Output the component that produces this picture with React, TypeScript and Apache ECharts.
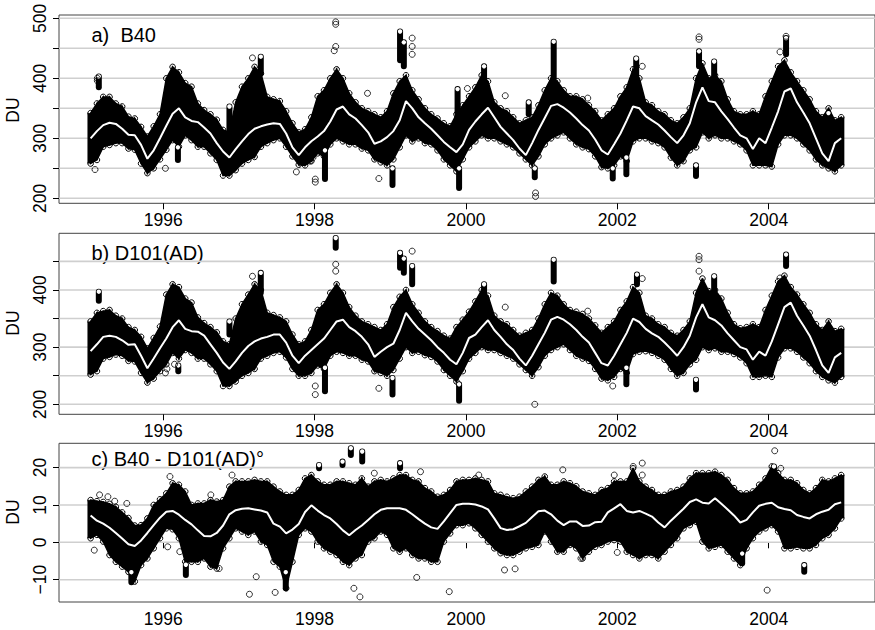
import React, { useEffect, useRef } from "react";
import * as echarts from "echarts";

const FONT = "Liberation Sans, Arial, Helvetica, sans-serif";
const START_YEAR = 1995;
const X_TICKS = [1996, 1998, 2000, 2002, 2004];

// ---------- Panel a) B40 ----------
const meanA = [
  300, 312, 322, 326, 324, 316, 306, 305, 289, 266, 280, 300,
  321, 341, 350, 335, 329, 327, 318, 308, 292, 278, 268, 282,
  295, 307, 316, 320, 323, 325, 324, 308, 285, 272, 285, 295,
  303, 312, 328, 348, 353, 340, 333, 322, 310, 291, 295, 302,
  312, 330, 362, 350, 335, 325, 316, 305, 294, 285, 277, 290,
  314, 328, 340, 351, 335, 319, 308, 297, 283, 272, 292, 314,
  334, 354, 357, 351, 343, 333, 322, 313, 298, 280, 273, 290,
  308, 330, 353, 350, 337, 330, 323, 313, 302, 292, 305, 325,
  360, 385, 362, 360, 345, 332, 318, 305, 300, 282, 300, 292,
  318, 345, 378, 383, 360, 343, 325, 300, 275, 262, 292, 300,
];
const loA = [
  258, 264, 286, 289, 292, 292, 283, 281, 258, 242, 250, 265,
  281, 297, 286, 305, 297, 286, 286, 275, 264, 238, 238, 247,
  258, 264, 269, 286, 292, 297, 300, 286, 270, 256, 255, 262,
  275, 270, 290, 300, 295, 290, 290, 283, 280, 265, 260, 255,
  265, 285, 305, 295, 300, 292, 290, 280, 265, 255, 245, 265,
  285, 295, 305, 300, 300, 295, 290, 285, 275, 265, 255, 270,
  290, 300, 305, 310, 300, 290, 285, 282, 270, 252, 250, 255,
  270, 262, 295, 300, 300, 295, 292, 285, 268, 255, 262, 280,
  285, 310, 300, 305, 300, 300, 295, 290, 280, 255, 255, 255,
  253, 290, 305, 305, 300, 290, 280, 265, 255, 250, 245, 255,
];
const hiA = [
  342, 358, 369, 369, 358, 353, 336, 333, 319, 303, 320, 340,
  400, 419, 410, 392, 386, 358, 347, 340, 331, 314, 310, 360,
  386, 400, 419, 408, 369, 365, 362, 345, 325, 310, 315, 335,
  370, 380, 400, 415, 400, 375, 360, 350, 345, 340, 335, 345,
  375, 395, 405, 380, 365, 350, 340, 333, 325, 320, 340, 355,
  370, 385, 405, 395, 360, 350, 345, 335, 325, 330, 335, 355,
  380, 400, 395, 380, 370, 370, 365, 355, 345, 330, 340, 350,
  370, 385, 415, 400, 360, 355, 345, 340, 330, 325, 335, 350,
  400, 425, 400, 405, 395, 365, 345, 340, 340, 345, 340, 370,
  395, 420, 430, 410, 395, 380, 365, 345, 335, 350, 330, 335,
];
const streaksA = [
  [1995.15, 385, 403], [1996.195, 264, 285], [1996.876, 310, 353], [1997.29, 408, 436],
  [1998.138, 232, 280], [1999.03, 222, 250], [1999.13, 430, 478], [1999.18, 420, 460],
  [1999.91, 217, 250], [1999.89, 330, 382], [2000.24, 390, 420], [2000.83, 340, 360],
  [2000.91, 235, 250], [2001.16, 400, 461], [2001.94, 233, 250], [2002.12, 240, 268],
  [2002.25, 400, 433], [2003.04, 237, 255], [2003.08, 420, 445], [2003.28, 400, 428],
  [2004.23, 440, 467], [2004.79, 310, 342],
];
const dotsA = [
  [1995.1, 248], [1995.13, 396], [1995.13, 400], [1996.03, 250], [1997.18, 434],
  [1997.76, 244], [1997.94, 262], [1997.98, 268], [1998.01, 227], [1998.01, 232],
  [1998.28, 490], [1998.28, 494], [1998.28, 453], [1998.26, 446], [1998.7, 375],
  [1998.85, 233], [1999.29, 467], [1999.29, 453], [1999.29, 440], [2000.02, 383],
  [2000.52, 371], [2000.92, 203], [2000.92, 209], [2001.61, 367], [2001.61, 350],
  [2002.33, 420], [2003.08, 465], [2003.08, 469], [2004.15, 444], [2004.23, 470],
];

// ---------- Panel b) D101(AD) ----------
const meanB = [
  293, 305, 318, 320, 318, 312, 304, 305, 285, 263, 280, 298,
  315, 335, 347, 332, 328, 327, 320, 305, 290, 273, 262, 275,
  290, 302, 310, 315, 318, 322, 322, 308, 285, 272, 285, 295,
  305, 315, 330, 345, 348, 335, 328, 318, 305, 283, 292, 300,
  306, 330, 360, 345, 332, 322, 312, 300, 290, 278, 270, 290,
  316, 322, 335, 347, 330, 318, 305, 295, 280, 268, 285, 305,
  325, 348, 353, 348, 340, 330, 318, 308, 290, 272, 268, 285,
  305, 325, 350, 344, 332, 324, 318, 308, 297, 285, 300, 320,
  352, 375, 352, 347, 338, 324, 312, 300, 296, 278, 292, 285,
  310, 340, 370, 378, 355, 338, 320, 295, 268, 255, 282, 290,
];
const loB = [
  252, 258, 280, 283, 287, 285, 276, 275, 255, 238, 245, 258,
  270, 290, 280, 295, 290, 280, 280, 270, 258, 232, 232, 240,
  250, 255, 262, 280, 285, 290, 292, 282, 262, 250, 250, 255,
  268, 262, 285, 292, 290, 285, 285, 278, 275, 258, 255, 250,
  260, 280, 300, 290, 292, 286, 283, 275, 260, 250, 240, 258,
  280, 290, 300, 295, 295, 290, 285, 280, 270, 260, 250, 265,
  285, 295, 300, 305, 295, 285, 280, 276, 262, 245, 242, 248,
  262, 255, 288, 292, 293, 290, 285, 278, 262, 250, 255, 270,
  278, 300, 295, 298, 292, 292, 288, 282, 272, 248, 248, 250,
  248, 282, 298, 298, 292, 282, 272, 258, 248, 242, 238, 248,
];
const hiB = [
  345, 360, 363, 365, 355, 350, 335, 330, 318, 298, 316, 336,
  392, 410, 405, 385, 378, 352, 342, 335, 326, 310, 305, 350,
  375, 392, 410, 400, 360, 356, 352, 345, 322, 305, 310, 330,
  365, 375, 395, 410, 395, 370, 355, 345, 340, 335, 330, 340,
  370, 388, 400, 375, 360, 345, 335, 328, 320, 315, 335, 348,
  362, 380, 400, 390, 355, 345, 340, 330, 320, 325, 330, 350,
  375, 395, 390, 375, 365, 362, 358, 350, 338, 325, 335, 345,
  365, 380, 405, 395, 355, 350, 340, 335, 325, 320, 330, 345,
  395, 420, 398, 400, 385, 360, 340, 333, 335, 340, 335, 365,
  390, 415, 425, 405, 392, 375, 360, 340, 330, 345, 328, 332,
];
const streaksB = [
  [1995.15, 381, 397], [1996.2, 258, 268], [1996.876, 322, 345], [1997.29, 395, 430],
  [1998.138, 223, 264], [1998.28, 474, 491], [1999.03, 217, 246], [1999.13, 439, 465],
  [1999.18, 430, 455], [1999.29, 410, 442], [1999.91, 206, 235], [2000.24, 390, 410],
  [2001.16, 415, 453], [2002.12, 235, 264], [2002.26, 410, 427], [2003.04, 226, 243],
  [2003.28, 398, 424], [2004.23, 442, 462],
];
const dotsB = [
  [1996.03, 255], [1996.05, 262], [1996.15, 270], [1997.18, 424], [1998.01, 232],
  [1998.01, 217], [1998.28, 445], [1998.28, 433], [1998.85, 228], [1999.29, 468],
  [2000.52, 370], [2000.91, 200], [2001.61, 363], [2001.61, 340], [2001.94, 232],
  [2002.33, 420], [2003.08, 459], [2003.08, 453], [2003.08, 433], [2004.15, 421],
  [2004.79, 329],
];

// ---------- Panel c) B40 - D101(AD) ----------
const meanC = [
  7.2, 5.8, 5.0, 3.9, 2.5, 1.0, -0.5, -1.0, 0.5, 2.5, 4.6, 6.6,
  8.2, 8.4, 7.4, 6.0, 4.8, 3.2, 1.7, 1.6, 2.5, 4.5, 7.5, 8.6,
  9.0, 9.1, 8.8, 8.5, 8.0, 5.0, 4.2, 2.4, 3.4, 4.9, 8.1, 9.9,
  8.5, 7.3, 6.4, 4.9, 3.2, 1.9, 3.3, 4.5, 6.0, 7.5, 8.7, 9.1,
  9.1, 9.1, 8.7, 7.5, 6.2, 5.0, 4.0, 3.6, 5.6, 7.8, 10.0, 10.3,
  10.3, 10.1, 9.6, 8.8, 6.4, 3.8, 3.3, 3.5, 4.3, 5.2, 6.8, 8.3,
  8.5, 7.5, 5.8, 4.6, 5.6, 5.6, 4.4, 4.5, 5.4, 5.5, 8.0, 9.1,
  10.2, 8.4, 8.0, 8.4, 7.7, 6.9, 5.3, 4.0, 5.8, 7.4, 9.0, 10.8,
  11.5, 10.6, 10.4, 11.8, 10.3, 8.8, 7.2, 5.3, 6.0, 8.0, 9.8, 10.3,
  10.6, 9.4, 8.9, 8.6, 7.3, 6.8, 6.4, 7.5, 8.2, 8.7, 10.2, 10.7,
];
const loC = [
  1.1, 2.0, 0.2, -3.4, -5.2, -6.5, -7.9, -10.5, -6.1, -4.3, -1.6, 1.1,
  3.75, 3.5, 1.1, -5.2, -5.2, -5.2, -4.3, -6.5, -7.0, -1.6, 1.1, 3.75,
  2.9, 2.0, 2.9, 0.2, -0.7, -5.2, -6.5, -12.3, -5.2, 2.0, 3.75, 2.9,
  0.2, -1.6, -2.5, -3.4, -5.2, -6.1, -4.3, -3.4, 0.2, 1.1, 2.9, 2.0,
  -1.6, -2.5, -1.6, -3.4, -4.3, -4.3, -5.2, -5.2, 0.2, 2.4, 4.6, 4.6,
  5.1, 3.75, 2.0, 0.2, -1.6, -2.9, -3.4, -3.4, -2.5, -1.6, -1.2, -0.7,
  2.9, 0.2, -2.5, -2.5, -0.7, -1.6, -4.3, -2.5, -1.2, -0.7, 0.2, 0.6,
  0.2, -2.5, -3.4, -4.3, -3.4, -3.4, -4.3, -2.5, -0.7, 1.1, 3.75, 4.6,
  5.5, 0.2, -1.6, -1.2, -0.7, -2.5, -4.3, -6.1, -1.6, 1.1, 2.9, 3.75,
  4.6, 2.9, -1.6, -1.6, -1.2, -1.6, -1.6, -0.7, 1.1, 2.0, 3.75, 6.4,
];
const hiC = [
  11.3, 11.0, 10.8, 10.3, 9.5, 8.0, 6.5, 4.5, 4.6, 6.4, 10.0, 11.5,
  13.1, 15.8, 15.4, 13.6, 10.0, 10.4, 10.4, 11.3, 10.9, 11.3, 14.9, 16.3,
  16.3, 16.3, 16.7, 16.3, 16.3, 14.9, 13.6, 12.7, 12.7, 14.0, 17.1, 18.0,
  16.3, 15.4, 15.4, 16.3, 16.3, 15.8, 15.4, 17.1, 14.9, 16.3, 16.7, 16.3,
  17.1, 18.0, 18.0, 16.7, 16.3, 14.5, 13.6, 12.2, 12.7, 14.0, 16.3, 16.7,
  16.7, 17.1, 16.7, 16.3, 13.1, 12.7, 12.2, 11.8, 12.2, 13.6, 14.9, 16.7,
  17.6, 15.4, 15.4, 16.3, 15.8, 15.0, 13.6, 13.1, 12.7, 14.0, 14.5, 16.3,
  16.3, 16.3, 19.8, 16.3, 14.9, 14.0, 12.7, 12.7, 13.6, 14.0, 14.9, 17.1,
  18.5, 18.5, 18.5, 18.9, 18.0, 16.7, 14.5, 13.1, 13.1, 13.6, 15.4, 17.1,
  20.3, 18.5, 16.7, 16.7, 15.8, 14.0, 13.1, 14.5, 16.7, 16.3, 17.1, 18.0,
];
const streaksC = [
  [1995.58, -10.7, -8], [1996.30, -8.75, -6], [1997.62, -12.3, -8], [1998.06, 19.8, 20.7],
  [1998.37, 20.7, 21.6], [1998.48, 23.4, 25.2], [1998.63, 21.6, 24.3], [1999.13, 19.8, 21.2],
  [2003.65, -5.6, -3], [2004.07, 19.4, 20.3], [2004.47, -7.9, -6.1],
];
const dotsC = [
  [1995.09, -2.1], [1995.16, 12.7], [1995.27, 12.2], [1995.36, 11.0], [1995.52, 10.4],
  [1996.09, 17.6], [1996.06, -1.2], [1996.22, -2.5], [1996.63, 12.7], [1996.74, -7.0],
  [1996.91, 18.0], [1997.14, -13.9], [1997.23, -9.2], [1997.48, -13.4], [1998.52, -12.3],
  [1998.60, -14.6], [1998.79, 18.5], [1999.40, 18.9], [1999.35, -9.4], [1999.78, -13.2],
  [2000.17, 18.0], [2000.51, -7.4], [2000.65, -7.1], [2001.28, 19.4], [2001.96, 18.0],
  [2002.21, 20.3], [2002.33, 21.2], [2002.33, 18.0], [2002.0, -2.7], [2001.52, -4.3],
  [2004.08, 24.5], [2004.16, 19.8], [2003.98, -12.8],
];

// axes
const gridLinesA = [200, 250, 300, 350, 400, 450, 500];
const gridLinesB = [200, 250, 300, 350, 400, 450];
const gridLinesC = [-10, 0, 10, 20];
const yTicksA = [200, 250, 300, 350, 400, 450, 500];
const yLabelsA = [200, 300, 400, 500];
const yTicksB = [200, 250, 300, 350, 400, 450];
const yLabelsB = [200, 300, 400];
const yTicksC = [-10, 0, 10, 20];
const yLabelsC = [-10, 0, 10, 20];

const titles = ["a)  B40", "b) D101(AD)", "c) B40 - D101(AD)\u00b0"];

const monthTime = (i: number) => START_YEAR + (i + 0.5) / 12;

const PANELS = [
  { top: 15, height: 188.3, min: 191.7, max: 505.5, mean: meanA, lo: loA, hi: hiA, streaks: streaksA, dots: dotsA, grid: gridLinesA, ticks: yTicksA, labels: yLabelsA },
  { top: 233.3, height: 181, min: 182.5, max: 499.2, mean: meanB, lo: loB, hi: hiB, streaks: streaksB, dots: dotsB, grid: gridLinesB, ticks: yTicksB, labels: yLabelsB },
  { top: 443.3, height: 158.7, min: -15.97, max: 26.5, mean: meanC, lo: loC, hi: hiC, streaks: streaksC, dots: dotsC, grid: gridLinesC, ticks: yTicksC, labels: yLabelsC },
];

const X_MIN = 1994.624;
const X_MAX = 2005.405;
const LEFT = 59;
const WIDTH = 818;

function fmtY(v: number) {
  return v < 0 ? "\u2212" + Math.abs(v) : String(v);
}

function buildOption() {
  const grids: any[] = [];
  const xAxes: any[] = [];
  const yAxes: any[] = [];
  const series: any[] = [];
  const graphics: any[] = [];
  const titleY = [35, 253, 459];
  const duY = [110, 323, 512];

  PANELS.forEach((p, gi) => {
    grids.push({
      left: LEFT, top: p.top, width: WIDTH, height: p.height,
      show: true, borderColor: "#444", borderWidth: 1, backgroundColor: "#fff",
    });
    xAxes.push({
      type: "value", gridIndex: gi, min: X_MIN, max: X_MAX,
      axisLine: { show: false }, splitLine: { show: false },
      axisTick: { show: true, length: 6, customValues: X_TICKS, lineStyle: { color: "#000", width: 1 } },
      axisLabel: { customValues: X_TICKS, formatter: (v: number) => String(v), margin: 8, fontSize: 17.5, color: "#000", fontFamily: FONT },
    });
    yAxes.push({
      type: "value", gridIndex: gi, min: p.min, max: p.max,
      axisLine: { show: false }, splitLine: { show: false },
      axisTick: { show: true, length: 6, customValues: p.ticks, lineStyle: { color: "#000", width: 1 } },
      axisLabel: { customValues: p.labels, formatter: fmtY, rotate: 90, margin: 10, fontSize: 17.5, color: "#000", fontFamily: FONT },
    });

    // horizontal grey reference lines
    series.push({
      type: "custom", xAxisIndex: gi, yAxisIndex: gi, z: 1, silent: true,
      data: p.grid.map((v) => [1996, v]),
      encode: { x: 0, y: 1 },
      renderItem: (params: any, api: any) => {
        const cs = params.coordSys;
        const y = api.coord([api.value(0), api.value(1)])[1];
        return {
          type: "line",
          shape: { x1: cs.x, y1: y, x2: cs.x + cs.width, y2: y },
          style: { stroke: "#cfcfcf", lineWidth: 1.6 },
        };
      },
    });

    // black mass of daily values (monthly envelope)
    const band = p.lo.map((l, i) => [monthTime(i), l, p.hi[i]]);
    series.push({
      type: "custom", xAxisIndex: gi, yAxisIndex: gi, z: 2, silent: true,
      data: band,
      encode: { x: 0, y: [1, 2] },
      renderItem: (params: any, api: any) => {
        const i = params.dataIndex;
        const t = api.value(0);
        const pLo = api.coord([t, api.value(1)]);
        const pHi = api.coord([t, api.value(2)]);
        const children: any[] = [];
        if (i < band.length - 1) {
          const n = band[i + 1];
          const qLo = api.coord([n[0], n[1]]);
          const qHi = api.coord([n[0], n[2]]);
          children.push({
            type: "polygon",
            shape: { points: [pHi, qHi, qLo, pLo] },
            style: { fill: "#000", stroke: "#000", lineWidth: 1.5 },
          });
        }
        if (i === 0) {
          const s = api.coord([START_YEAR, api.value(2)]);
          children.push({
            type: "rect",
            shape: { x: s[0], y: pHi[1], width: pHi[0] - s[0], height: pLo[1] - pHi[1] },
            style: { fill: "#000" },
          });
        }
        if (i === band.length - 1) {
          const e = api.coord([START_YEAR + band.length / 12, api.value(2)]);
          children.push({
            type: "rect",
            shape: { x: pHi[0], y: pHi[1], width: e[0] - pHi[0], height: pLo[1] - pHi[1] },
            style: { fill: "#000" },
          });
        }
        children.push({ type: "circle", shape: { cx: pHi[0], cy: pHi[1], r: 2.8 }, style: { fill: "none", stroke: "#000", lineWidth: 1 } });
        children.push({ type: "circle", shape: { cx: pLo[0], cy: pLo[1], r: 2.8 }, style: { fill: "none", stroke: "#000", lineWidth: 1 } });
        return { type: "group", children };
      },
    });

    // short vertical runs of points
    series.push({
      type: "custom", xAxisIndex: gi, yAxisIndex: gi, z: 3, silent: true,
      data: p.streaks,
      encode: { x: 0, y: [1, 2] },
      renderItem: (params: any, api: any) => {
        const a = api.coord([api.value(0), api.value(2)]);
        const b = api.coord([api.value(0), api.value(1)]);
        return {
          type: "group",
          children: [
            { type: "rect", shape: { x: a[0] - 3, y: a[1] - 3, width: 6, height: b[1] - a[1] + 6, r: 3 }, style: { fill: "#000" } },
            { type: "circle", shape: { cx: a[0], cy: a[1], r: 2.2 }, style: { fill: "#fff" } },
          ],
        };
      },
    });

    // isolated points
    series.push({
      type: "scatter", xAxisIndex: gi, yAxisIndex: gi, z: 4, silent: true,
      data: p.dots, symbol: "circle", symbolSize: 6,
      itemStyle: { color: "rgba(0,0,0,0)", borderColor: "#000", borderWidth: 1 },
    });

    // monthly mean
    series.push({
      type: "line", xAxisIndex: gi, yAxisIndex: gi, z: 5, silent: true,
      data: p.mean.map((v, i) => [monthTime(i), v]),
      showSymbol: false, symbol: "none",
      lineStyle: { color: "#fff", width: 2 },
    });

    graphics.push({
      type: "text", x: 91.5, y: titleY[gi],
      style: { text: titles[gi], fill: "#000", font: `20px ${FONT}`, textAlign: "left", textVerticalAlign: "middle" },
    });
    graphics.push({
      type: "text", x: 13, y: duY[gi], rotation: Math.PI / 2,
      style: { text: "DU", fill: "#000", font: `17.5px ${FONT}`, textAlign: "center", textVerticalAlign: "middle" },
    });
  });

  return {
    animation: false,
    backgroundColor: "#fff",
    grid: grids,
    xAxis: xAxes,
    yAxis: yAxes,
    series,
    graphic: graphics,
  };
}

export default function App() {
  const ref = useRef<HTMLDivElement>(null);
  useEffect(() => {
    if (!ref.current) return;
    const chart = echarts.init(ref.current, null, { renderer: "svg" });
    chart.setOption(buildOption() as any);
    return () => chart.dispose();
  }, []);
  return <div ref={ref} style={{ position: "fixed", left: 0, top: 0, width: 875, height: 630, background: "#fff" }} />;
}
